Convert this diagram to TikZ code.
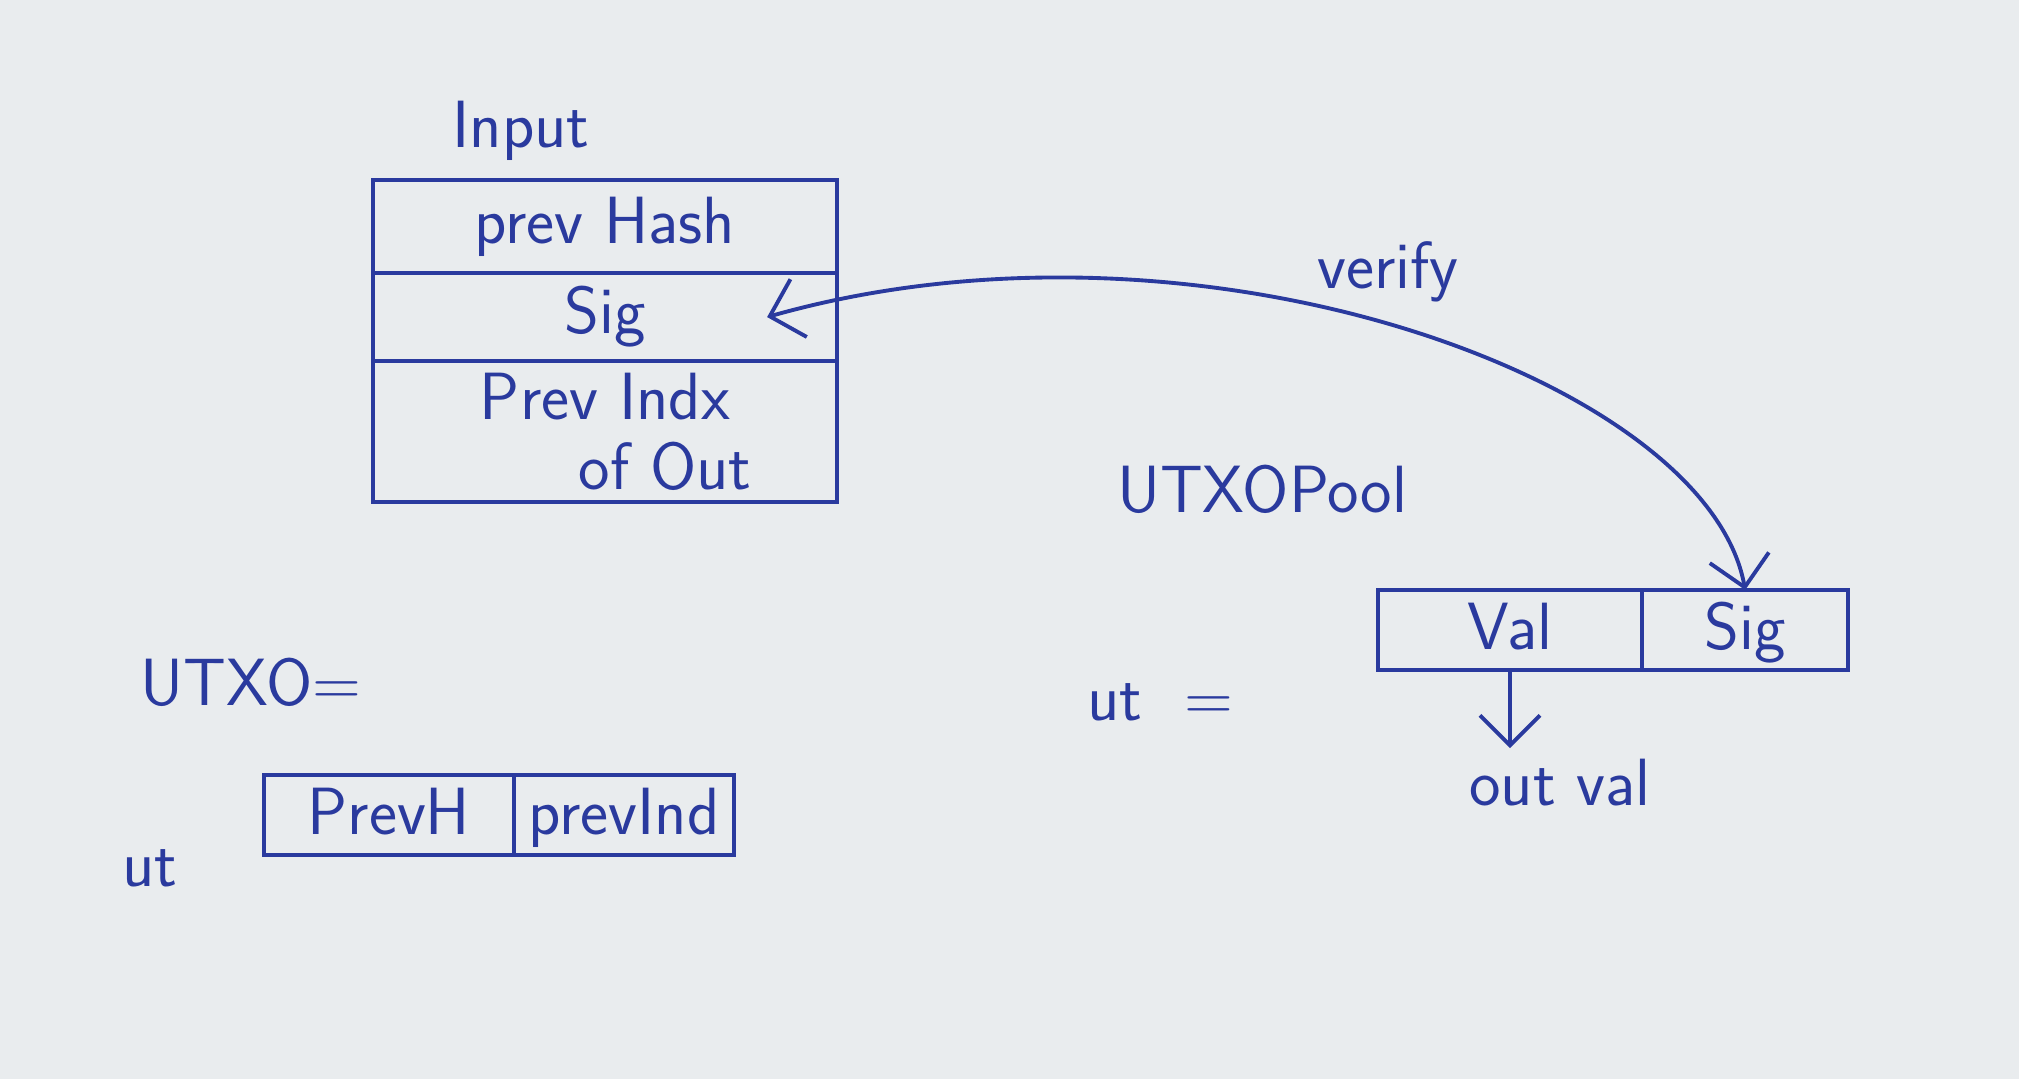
\documentclass[tikz,border=0pt]{standalone}
\usepackage{tikz}
\usetikzlibrary{positioning,arrows.meta}
\definecolor{paper}{HTML}{E9ECEE}
\definecolor{ink}  {HTML}{2A3A9E}

\begin{document}
\begin{tikzpicture}[
  x=0.01cm, y=-0.01cm,
  font=\sffamily\fontsize{19}{20}\selectfont,
  field/.style={draw=ink, line width=1.1pt, minimum width=4.64cm, outer sep=0pt,
                inner sep=1pt, align=center, text=ink},
  cell/.style={draw=ink, line width=1.1pt, minimum height=0.8cm, outer sep=0pt,
               inner sep=3pt, text height=13.5pt, text depth=2.5pt, text=ink},
  lbl/.style={inner sep=1pt, text=ink},
  wire/.style={draw=ink, line width=1.1pt},
  tip/.style={-{Straight Barb[length=3mm]}}
]
\fill[paper] (0,0) rectangle (2019,1079);

% input record
\node[field, minimum height=0.93cm] (hash) at (605,226.5) {prev Hash};
\node[field, minimum height=0.88cm, below=0pt of hash] (sig) {Sig};
\node[field, minimum height=1.41cm, below=0pt of sig] (idx) {Prev Indx\\ \hspace*{1.2cm}of Out};
\node[lbl, above=0.15cm of hash.north, xshift=-0.84cm] (input) {Input};

% pool entry
\node[lbl] (pool) at (1262,489) {UTXOPool};
\node[lbl] (uteq) at (1160,702) {ut \ =};
\node[cell, minimum width=2.64cm] (val) at (1510,630) {Val};
\node[cell, minimum width=2.06cm, right=0pt of val] (usig) {Sig};
\node[lbl, below=0.85cm of val, xshift=0.5cm] (outval) {out val};
\draw[wire, tip, shorten >=2pt] (val) -- (val |- outval.north);

% utxo key
\node[lbl] (utxo) at (251,682) {UTXO=};
\node[cell, minimum width=2.5cm] (prevh) at (389,815) {PrevH};
\node[cell, minimum width=2.2cm, right=0pt of prevh] (prevind) {prevInd};
\node[lbl] (ut) at (150,868) {ut};

% verify link
\coordinate (sigtip) at ([xshift=-7mm]sig.east);
\node[lbl] (verify) at (1388,272) {verify};
\draw[wire, {Straight Barb[length=3mm]}-{Straight Barb[length=3mm]}]
  (sigtip) .. controls +(430,-122) and +(-38,-210) .. (usig.north);
\end{tikzpicture}
\end{document}
